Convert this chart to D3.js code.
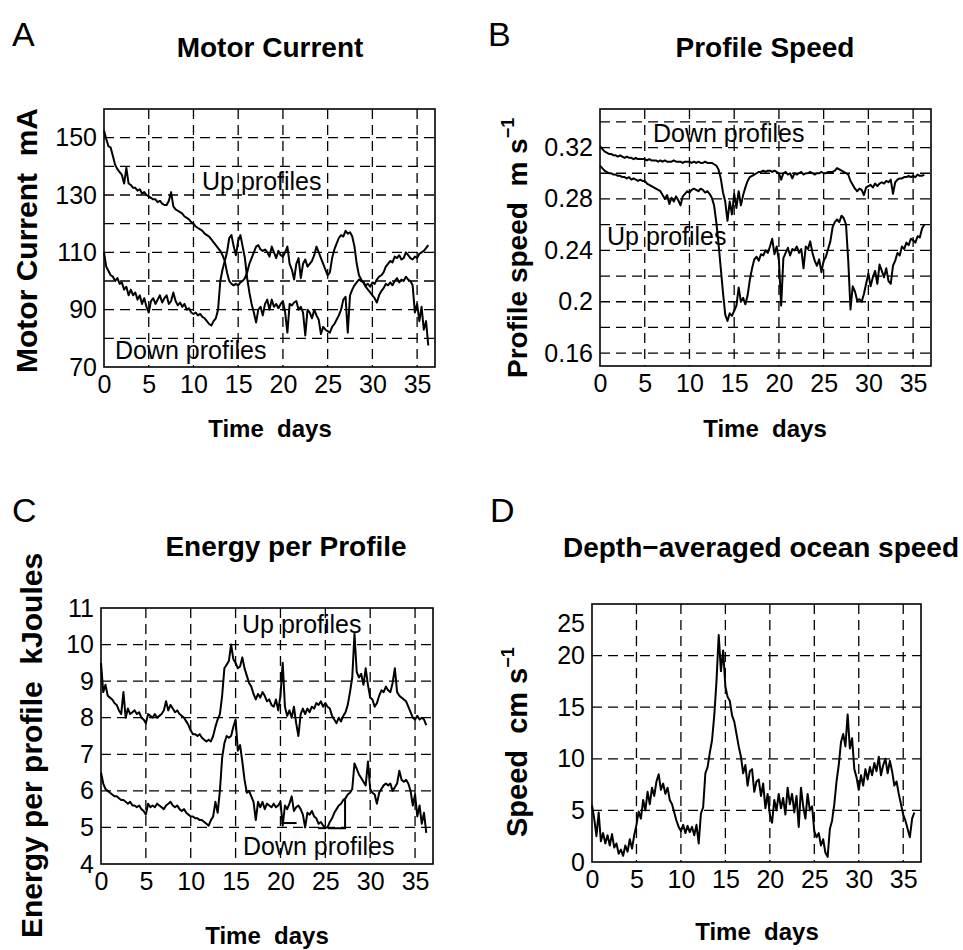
<!DOCTYPE html>
<html>
<head>
<meta charset="utf-8">
<script src="https://cdn.jsdelivr.net/npm/d3@7"></script>
<style>
  body { margin: 0; background: #fff; }
  text { font-family: "Liberation Sans", Arial, Helvetica, sans-serif; fill: #000; }
</style>
</head>
<body>
<svg id="fig" width="963" height="950"></svg>
<script>
// Sampling: one value every 0.25 day, from day 0 to day 36.25
const sampleStart = 0;
const sampleStep = 0.25;

// Motor current, mA
const motorUp = [
  152.5, 149.5, 147, 146.5, 143.5, 140.5, 139, 138,
  137, 134, 139.5, 134, 133.5, 132.5, 132.5, 131.5,
  132, 130.5, 131, 130, 129.5, 129, 128.5, 128.5,
  127.5, 128, 127, 126.5, 126.5, 128, 131, 126,
  125, 124.5, 124, 123.5, 122.5, 122, 121.5, 120.5,
  120, 119, 118.5, 118, 117.5, 116.5, 116, 115.5,
  114.5, 113.5, 112.5, 111.5, 110.5, 109, 107, 103,
  100, 99, 98.5, 99, 98.5, 99.5, 100, 101,
  103, 106, 108, 110, 112, 112.5, 111, 110.5,
  111, 110, 108.5, 112, 110, 108, 110.5, 109,
  108.5, 110, 112, 106, 104, 100.5, 106, 108,
  101, 106, 107.5, 105, 106, 107, 109, 112,
  110, 108, 106, 104, 102, 103, 108, 111,
  113, 115, 116, 115.5, 117.5, 116.5, 117, 115.5,
  112, 106, 102, 100.5, 99.5, 98.5, 99, 98,
  99.5, 99, 100.5, 101.5, 102, 103, 105, 106,
  107, 106.5, 108.5, 108, 109, 107.5, 108, 110,
  109, 108, 107.5, 108.5, 108, 109.5, 110, 110.5,
  111.5, 112.5
];
const motorDown = [
  110, 105, 103.5, 102, 101.5, 100, 101, 99,
  99.5, 97, 98, 95, 97, 95, 96, 93.5,
  95, 92, 94, 91, 89, 93, 94, 92,
  93.5, 95, 92.5, 94, 95, 92, 93, 96,
  93, 91.5, 92.5, 91, 92, 90, 90.5, 89,
  88.5, 89, 88, 88.5, 87.5, 87, 86, 85,
  84.5, 86, 87, 90, 100, 104, 107, 110,
  115, 116, 112, 109, 114, 116, 112, 108,
  101, 96, 92, 89, 85.5, 90, 91, 88,
  92, 93.5, 90, 93.5, 91, 92, 90.5, 92,
  93, 89, 82, 92, 91.5, 92.5, 93, 90,
  91, 89, 81, 90, 89, 87, 90, 88,
  86.5, 81.5, 84, 83, 82.5, 82, 84, 85,
  86.5, 88, 90, 93.5, 94.5, 82, 95, 97,
  98.5, 99.5, 100.5, 100, 99.5, 98, 97, 96,
  95, 94, 92.5, 95, 96.5, 97.5, 99, 98.5,
  99.5, 98.5, 100, 101, 99.5, 100.5, 100, 101.5,
  100.5, 100, 98.5, 89, 92, 86, 91, 83,
  86, 77.5
];

// Profile speed, m/s
const speedUp = [
  .306, .304, .302, .301, .300, .300, .299, .299,
  .298, .298, .297, .297, .296, .297, .295, .296,
  .295, .294, .295, .294, .294, .292, .291, .290,
  .289, .288, .287, .286, .283, .280, .283, .276,
  .281, .278, .282, .279, .275, .282, .284, .286,
  .285, .287, .288, .287, .286, .288, .287, .285,
  .286, .284, .281, .275, .262, .245, .226, .207,
  .190, .185, .191, .189, .193, .197, .211, .200,
  .203, .198, .205, .217, .226, .233, .235, .232,
  .237, .236, .240, .238, .243, .249, .237, .243,
  .232, .197, .234, .238, .242, .236, .241, .240,
  .243, .238, .241, .226, .243, .241, .247, .238,
  .232, .228, .233, .223, .232, .235, .241, .247,
  .258, .262, .264, .262, .267, .265, .260, .232,
  .194, .212, .208, .201, .202, .200, .206, .214,
  .222, .212, .219, .224, .214, .229, .224, .219,
  .226, .216, .214, .228, .232, .238, .236, .243,
  .241, .246, .244, .249, .248, .246, .251, .250,
  .257, .260
];
const speedDown = [
  .321, .319, .317, .316, .315, .315, .314, .314,
  .313, .314, .313, .312, .313, .312, .312, .311,
  .312, .311, .311, .311, .311, .310, .311, .310,
  .310, .310, .309, .310, .309, .310, .309, .309,
  .309, .310, .309, .309, .309, .308, .309, .309,
  .309, .308, .309, .308, .309, .308, .308, .309,
  .308, .308, .308, .307, .306, .303, .296, .285,
  .278, .263, .278, .268, .284, .273, .286, .275,
  .283, .289, .294, .297, .298, .299, .300, .301,
  .301, .302, .301, .302, .302, .301, .302, .301,
  .300, .295, .300, .301, .299, .300, .296, .300,
  .299, .300, .301, .299, .300, .300, .301, .300,
  .299, .300, .300, .301, .300, .300, .301, .301,
  .301, .302, .304, .303, .302, .301, .300, .299,
  .294, .291, .288, .286, .288, .287, .283, .289,
  .290, .291, .289, .292, .290, .292, .293, .292,
  .294, .293, .295, .284, .293, .295, .296, .296,
  .297, .297, .298, .297, .298, .297, .299, .298,
  .298, .299
];

// Energy per profile, kJ
const energyUp = [
  9.5, 8.7, 8.9, 8.6, 8.55, 8.5, 8.4, 8.35,
  8.2, 8.1, 8.7, 8.0, 8.25, 8.1, 8.15, 8.2,
  8.1, 8.15, 8.0, 7.95, 7.85, 8.1, 8.05, 8.0,
  8.1, 8.0, 8.05, 8.1, 8.2, 8.45, 8.2, 8.35,
  8.25, 8.15, 8.2, 8.1, 8.05, 8.0, 7.9, 7.8,
  7.65, 7.55, 7.55, 7.5, 7.55, 7.45, 7.4, 7.35,
  7.4, 7.35, 7.5, 7.75, 7.95, 8.1, 8.6, 9.35,
  9.45, 9.55, 10.0, 9.6, 9.5, 9.35, 9.4, 9.65,
  9.35, 9.15, 8.95, 8.85, 8.65, 8.5, 8.65, 8.55,
  8.7, 8.6, 8.45, 8.5, 8.35, 8.3, 8.5, 8.2,
  8.6, 9.5, 8.3, 8.05, 8.2, 8.0, 8.3, 7.85,
  7.5, 8.1, 8.25, 8.1, 8.25, 8.15, 8.3, 8.25,
  8.4, 8.35, 8.45, 8.3, 8.4, 8.3, 8.25, 8.05,
  7.95, 7.85, 8.0, 7.9, 8.05, 8.15, 8.35, 8.7,
  9.1, 10.3, 9.25, 9.1, 9.2, 8.9, 9.35, 8.9,
  8.55, 8.5, 8.3, 8.4, 8.6, 8.75, 8.7, 8.85,
  8.75, 8.7, 8.95, 9.35, 8.7, 8.6, 8.55, 8.5,
  8.45, 8.3, 8.15, 8.0, 7.95, 8.05, 7.95, 8.0,
  7.95, 7.8
];
const energyDown = [
  6.5, 6.2, 6.05, 6.0, 5.95, 5.9, 5.85, 5.85,
  5.8, 5.75, 5.75, 5.7, 5.65, 5.7, 5.6, 5.6,
  5.55, 5.6, 5.5, 5.45, 5.35, 5.65, 5.55, 5.6,
  5.55, 5.65, 5.6, 5.55, 5.5, 5.6, 5.65, 5.7,
  5.6, 5.55, 5.6, 5.5, 5.45, 5.5, 5.4, 5.35,
  5.3, 5.3, 5.25, 5.25, 5.2, 5.2, 5.15, 5.1,
  5.05, 5.2, 5.3, 5.7, 5.4, 6.0, 6.9, 7.3,
  7.5, 7.45, 7.5, 7.75, 7.95, 7.1, 7.25, 6.8,
  6.3, 5.95, 6.0, 5.85, 5.7, 5.2, 5.7, 5.55,
  5.7, 5.5, 5.65, 5.6, 5.55, 5.65, 5.55, 5.6,
  5.7, 5.05, 5.6, 5.5, 5.65, 5.85, 5.45, 5.55,
  5.6, 5.5, 5.35, 5.0, 5.4, 5.35, 5.45, 5.3,
  5.25, 5.1, 5.15, 5.05, 5.0, 5.0, 5.15, 5.25,
  5.4, 5.5, 5.6, 5.65, 5.75, 5.8, 5.9, 5.95,
  6.05, 6.75, 6.6, 6.45, 6.35, 6.25, 6.15, 6.8,
  6.05, 5.95, 5.9, 5.65, 5.95, 6.05, 6.15, 6.2,
  6.15, 6.2, 6.0, 6.1, 6.2, 6.55, 6.3, 6.25,
  6.3, 6.2, 6.0, 5.6, 5.9, 5.3, 5.6, 5.1,
  5.4, 4.85
];
// Straight joins across gaps in the down-profile energy record: [day, kJ] vertices
const energyDownJoins = [
  [[20.1, 5.12], [21.8, 5.12]],
  [[24.2, 4.98], [25.1, 4.98]],
  [[25.3, 4.98], [27.2, 4.98], [27.2, 5.8]]
];

// Depth-averaged ocean speed, cm/s
const oceanSpeed = [
  5.5, 4.2, 2.5, 4.8, 2.0, 2.8, 1.8, 2.6,
  1.6, 2.7, 1.4, 1.8, 0.8, 1.2, 0.6, 1.6,
  1.0, 2.2, 1.3, 2.6, 3.6, 4.9, 4.2, 6.0,
  5.0, 6.8, 5.6, 7.2, 6.4, 7.8, 8.5, 7.0,
  7.6, 6.6, 7.2, 6.0, 5.6, 4.8, 4.0, 3.4,
  3.0, 3.6, 2.8, 3.5, 2.9, 3.4, 2.6, 3.6,
  1.8, 4.7, 5.3, 8.6, 9.2, 10.6, 11.8, 14.2,
  17.5, 22.0, 18.5, 20.5, 17.0, 16.0, 15.6, 14.2,
  13.6, 12.4, 11.2, 10.2, 8.6, 9.4, 7.4, 8.8,
  9.0, 6.8, 7.8, 8.0, 6.4, 7.6, 5.2, 6.6,
  4.6, 3.8, 6.0, 5.0, 6.6, 5.2, 6.2, 4.6,
  7.2, 5.6, 6.6, 4.8, 6.4, 3.4, 7.2, 5.4,
  4.2, 6.6, 5.0, 5.4, 3.0, 2.4, 2.8, 1.6,
  2.2, 0.9, 0.5, 3.2, 4.0, 5.6, 7.8, 9.4,
  11.6, 12.4, 11.2, 14.3, 11.0, 12.0, 9.0, 8.2,
  7.0, 8.4, 7.4, 9.0, 8.0, 9.2, 8.4, 9.6,
  8.8, 10.2, 8.4, 9.4, 10.0, 8.6, 9.8, 8.8,
  7.4, 7.8, 6.6, 5.6, 4.6, 4.0, 3.2, 2.4,
  4.2, 4.8
];

// Axis ticks and grid levels
const dayTicks = [0, 5, 10, 15, 20, 25, 30, 35];
const dayGrid = [5, 10, 15, 20, 25, 30, 35];
const motorTicks = [70, 90, 110, 130, 150];
const motorGrid = [80, 90, 100, 110, 120, 130, 140, 150];
const speedTicks = [0.16, 0.2, 0.24, 0.28, 0.32];
const speedGrid = [0.16, 0.18, 0.2, 0.22, 0.24, 0.26, 0.28, 0.3, 0.32, 0.34];
const energyTicks = [4, 5, 6, 7, 8, 9, 10, 11];
const energyGrid = [5, 6, 7, 8, 9, 10];
const oceanTicks = [0, 5, 10, 15, 20, 25];
const oceanGrid = [5, 10, 15, 20];

const days = motorUp.map((_, i) => sampleStart + i * sampleStep);

// Panel layout
const panels = [
  {
    letter: "A", letterPos: [12, 46],
    title: "Motor Current", titlePos: [270, 57],
    box: { l: 104, t: 109, r: 435, b: 367 },
    xDomain: [0, 37], yDomain: [70, 160],
    yTicks: motorTicks, yGrid: motorGrid,
    series: [motorUp, motorDown], joins: [],
    ylabel: { pos: [37, 373], size: 30, main: "Motor Current\u00a0\u00a0mA", sup: null },
    xlabelPos: [270, 437],
    notes: [{ text: "Up profiles", pos: [202, 190] }, { text: "Down profiles", pos: [115, 359] }]
  },
  {
    letter: "B", letterPos: [488, 46],
    title: "Profile Speed", titlePos: [765, 57],
    box: { l: 600, t: 109, r: 931, b: 366 },
    xDomain: [0, 37], yDomain: [0.15, 0.35],
    yTicks: speedTicks, yGrid: speedGrid,
    series: [speedUp, speedDown], joins: [],
    ylabel: { pos: [527, 378], size: 28, main: "Profile speed\u00a0\u00a0m s", sup: "\u22121" },
    xlabelPos: [765, 437],
    notes: [{ text: "Down profiles", pos: [653, 142] }, { text: "Up profiles", pos: [607, 245] }]
  },
  {
    letter: "C", letterPos: [12, 522],
    title: "Energy per Profile", titlePos: [286, 556],
    box: { l: 101, t: 608, r: 433, b: 864 },
    xDomain: [0, 37], yDomain: [4, 11],
    yTicks: energyTicks, yGrid: energyGrid,
    series: [energyUp, energyDown], joins: energyDownJoins,
    ylabel: { pos: [42, 938], size: 30, main: "Energy per profile\u00a0\u00a0kJoules", sup: null },
    xlabelPos: [267, 944],
    notes: [{ text: "Up profiles", pos: [242, 633] }, { text: "Down profiles", pos: [243, 855] }]
  },
  {
    letter: "D", letterPos: [490, 522],
    title: "Depth\u2212averaged ocean speed", titlePos: [761, 557],
    box: { l: 592, t: 604, r: 921, b: 862 },
    xDomain: [0, 37], yDomain: [0, 25],
    yTicks: oceanTicks, yGrid: oceanGrid,
    series: [oceanSpeed], joins: [],
    ylabel: { pos: [527, 837], size: 29, main: "Speed\u00a0\u00a0cm s", sup: "\u22121" },
    xlabelPos: [757, 940],
    notes: [],
    shiftTick: { value: 25, dy: 19 }
  }
];

const svg = d3.select("#fig");

panels.forEach(p => {
  const g = svg.append("g");
  const x = d3.scaleLinear().domain(p.xDomain).range([p.box.l, p.box.r]);
  const y = d3.scaleLinear().domain(p.yDomain).range([p.box.b, p.box.t]);

  // dashed grid
  g.append("g").selectAll("line").data(p.yGrid).join("line")
    .attr("x1", p.box.l).attr("x2", p.box.r)
    .attr("y1", d => y(d)).attr("y2", d => y(d))
    .attr("stroke", "#000").attr("stroke-width", 1.3).attr("stroke-dasharray", "10,6");
  g.append("g").selectAll("line").data(dayGrid).join("line")
    .attr("y1", p.box.t).attr("y2", p.box.b)
    .attr("x1", d => x(d)).attr("x2", d => x(d))
    .attr("stroke", "#000").attr("stroke-width", 1.3).attr("stroke-dasharray", "10,6");

  // axes (labels only)
  const ya = g.append("g").attr("transform", `translate(${p.box.l},0)`)
    .call(d3.axisLeft(y).tickValues(p.yTicks).tickSize(0).tickPadding(7).tickFormat(d => String(d)));
  const xa = g.append("g").attr("transform", `translate(0,${p.box.b})`)
    .call(d3.axisBottom(x).tickValues(dayTicks).tickSize(0).tickPadding(8).tickFormat(d => String(d)));
  [ya, xa].forEach(a => {
    a.select(".domain").remove();
    a.selectAll("text").attr("font-size", 25).attr("fill", "#000")
      .style("font-family", '"Liberation Sans", Arial, sans-serif');
  });
  if (p.shiftTick) {
    ya.selectAll(".tick").filter(d => d === p.shiftTick.value)
      .select("text").attr("transform", `translate(0,${p.shiftTick.dy})`);
  }

  // data lines
  const line = d3.line().x((d, i) => x(days[i])).y(d => y(d));
  p.series.forEach(s => {
    g.append("path").datum(s).attr("d", line)
      .attr("fill", "none").attr("stroke", "#000")
      .attr("stroke-width", 2).attr("stroke-linejoin", "round");
  });
  const joinLine = d3.line().x(d => x(d[0])).y(d => y(d[1]));
  p.joins.forEach(j => {
    g.append("path").datum(j).attr("d", joinLine)
      .attr("fill", "none").attr("stroke", "#000").attr("stroke-width", 2);
  });

  // frame
  g.append("rect")
    .attr("x", p.box.l).attr("y", p.box.t)
    .attr("width", p.box.r - p.box.l).attr("height", p.box.b - p.box.t)
    .attr("fill", "none").attr("stroke", "#000").attr("stroke-width", 1.6);

  // in-plot annotations
  p.notes.forEach(n => {
    g.append("text").attr("x", n.pos[0]).attr("y", n.pos[1])
      .attr("font-size", 25).text(n.text);
  });

  // title and panel letter
  g.append("text").attr("x", p.titlePos[0]).attr("y", p.titlePos[1])
    .attr("text-anchor", "middle").attr("font-size", 28).attr("font-weight", "bold")
    .text(p.title);
  g.append("text").attr("x", p.letterPos[0]).attr("y", p.letterPos[1])
    .attr("font-size", 34).text(p.letter);

  // x-axis label
  g.append("text").attr("x", p.xlabelPos[0]).attr("y", p.xlabelPos[1])
    .attr("text-anchor", "middle").attr("font-size", 24).attr("font-weight", "bold")
    .text("Time\u00a0\u00a0days");

  // y-axis label (rotated)
  const yl = g.append("text")
    .attr("transform", `translate(${p.ylabel.pos[0]},${p.ylabel.pos[1]}) rotate(-90)`)
    .attr("font-size", p.ylabel.size).attr("font-weight", "bold");
  yl.append("tspan").text(p.ylabel.main);
  if (p.ylabel.sup) {
    yl.append("tspan").attr("dy", -13).attr("font-size", 18).text(p.ylabel.sup);
  }
});
</script>
</body>
</html>
